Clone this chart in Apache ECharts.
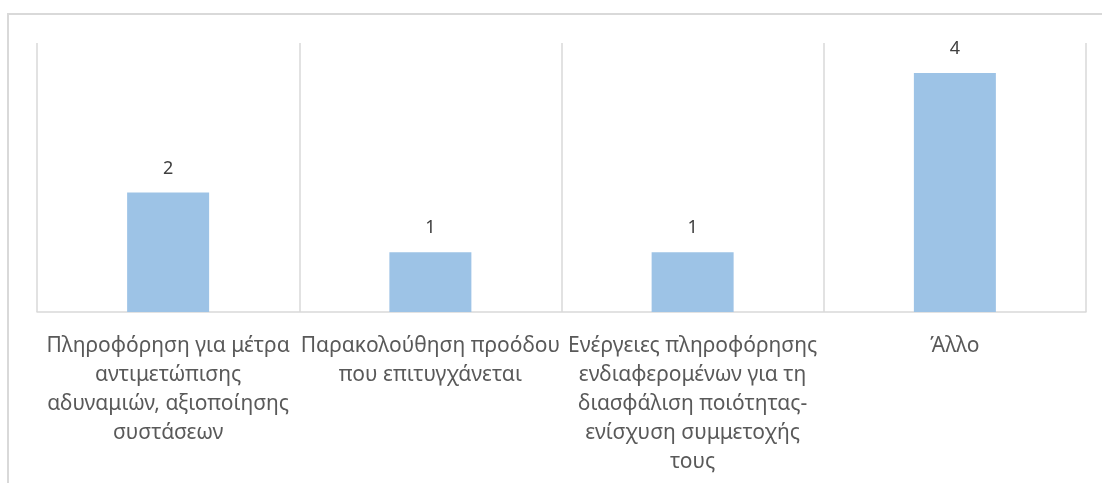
<!DOCTYPE html>
<html>
<head>
<meta charset="utf-8">
<script src="https://cdn.jsdelivr.net/npm/echarts@6/dist/echarts.min.js"></script>
<style>
html, body { margin: 0; padding: 0; background: #fff; }
#chart { width: 1102px; height: 483px; }
</style>
</head>
<body>
<div id="chart"></div>
<script>
// κατηγορίες και τιμές
var categories = [
    'Πληροφόρηση για μέτρα\nαντιμετώπισης\nαδυναμιών, αξιοποίησης\nσυστάσεων',
    'Παρακολούθηση προόδου\nπου επιτυγχάνεται',
    'Ενέργειες πληροφόρησης\nενδιαφερομένων για τη\nδιασφάλιση ποιότητας-\nενίσχυση συμμετοχής\nτους',
    'Άλλο'
];
var values = [2, 1, 1, 4];

var chart = echarts.init(document.getElementById('chart'));
var option = {
    animation: false,
    textStyle: { fontFamily: 'Noto Sans' },
    graphic: [{
        type: 'rect',
        shape: { x: 8, y: 14, width: 1200, height: 600 },
        style: { fill: 'none', stroke: '#d9d9d9', lineWidth: 2 },
        silent: true
    }],
    grid: {
        left: 37,
        right: 16,
        top: 43,
        bottom: 171
    },
    xAxis: {
        type: 'category',
        data: categories,
        axisLine: { lineStyle: { color: '#d9d9d9', width: 1.5 } },
        axisTick: { show: false },
        splitLine: { show: true, lineStyle: { color: '#d9d9d9', width: 1.5 } },
        axisLabel: {
            interval: 0,
            color: '#595959',
            fontSize: 21,
            lineHeight: 29,
            margin: 20,
            align: 'center'
        }
    },
    yAxis: {
        type: 'value',
        min: 0,
        max: 4.5,
        show: false,
        splitLine: { show: false }
    },
    series: [{
        type: 'bar',
        data: values,
        barWidth: 82,
        itemStyle: { color: '#9dc3e6' },
        label: {
            show: true,
            position: 'top',
            distance: 15,
            color: '#404040',
            fontSize: 18
        }
    }]
};
chart.setOption(option);
window.addEventListener('resize', function () {
    chart.resize();
});
</script>
</body>
</html>
